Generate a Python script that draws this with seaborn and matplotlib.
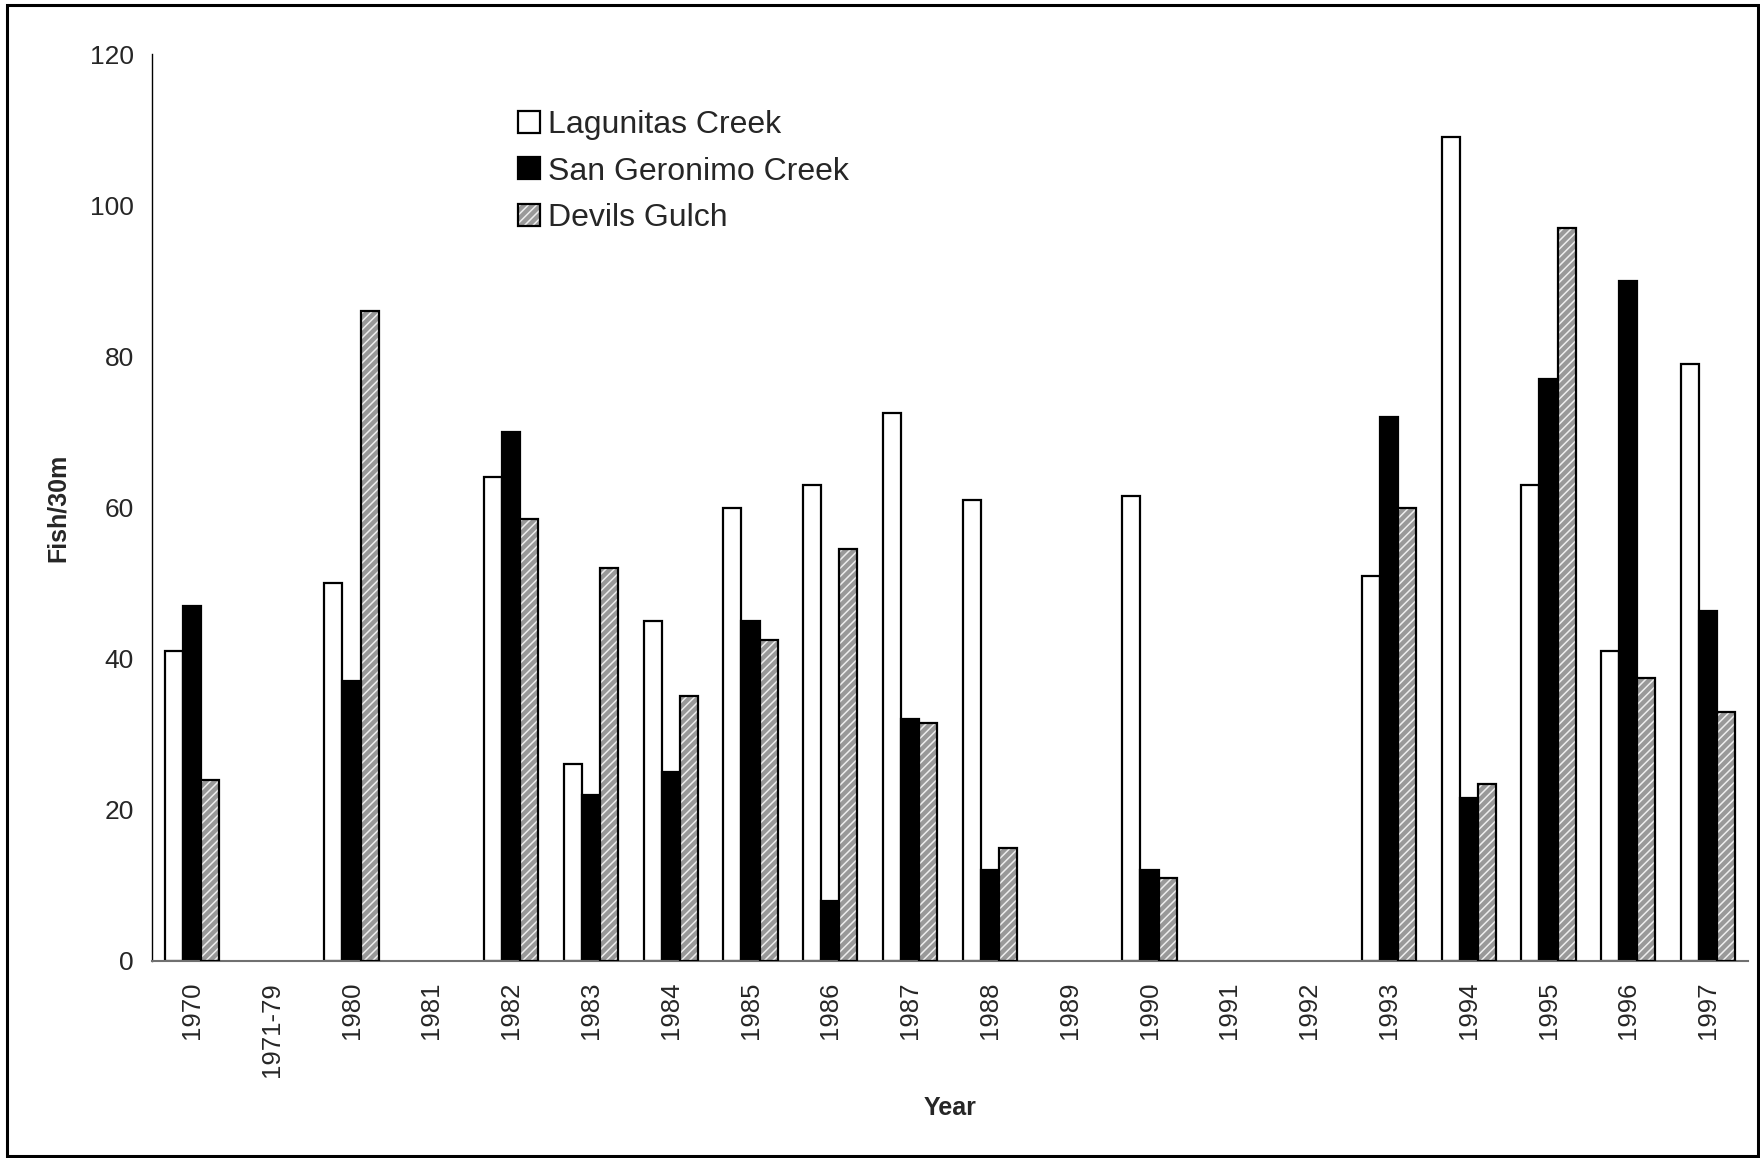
import numpy as np
import pandas as pd
import matplotlib
matplotlib.use("Agg")
import matplotlib.pyplot as plt
import seaborn as sns
from matplotlib.patches import Patch, Rectangle

nan = np.nan
years = ["1970", "1971-79", "1980", "1981", "1982", "1983", "1984", "1985", "1986",
         "1987", "1988", "1989", "1990", "1991", "1992", "1993", "1994", "1995",
         "1996", "1997"]
lagunitas = [41, nan, 50, nan, 64, 26, 45, 60, 63, 72.5, 61, nan, 61.5, nan, nan,
             51, 109, 63, 41, 79]
san_geronimo = [47, nan, 37, nan, 70, 22, 25, 45, 8, 32, 12, nan, 12, nan, nan,
                72, 21.6, 77, 90, 46.3]
devils_gulch = [24, nan, 86, nan, 58.5, 52, 35, 42.5, 54.5, 31.5, 15, nan, 11, nan, nan,
                60, 23.4, 97, 37.5, 33]
series_names = ["Lagunitas Creek", "San Geronimo Creek", "Devils Gulch"]
y_ticks = [0, 20, 40, 60, 80, 100, 120]

rows = []
for name, vals in zip(series_names, [lagunitas, san_geronimo, devils_gulch]):
    for yr, v in zip(years, vals):
        if not np.isnan(v):
            rows.append({"Year": yr, "Series": name, "Fish": v})
df = pd.DataFrame(rows)

sns.set_style("white")
plt.rcParams["font.family"] = ["Liberation Sans", "DejaVu Sans"]
plt.rcParams["hatch.linewidth"] = 1.1

W, H = 1760, 1158
fig = plt.figure(figsize=(W / 100, H / 100), dpi=100)
ax = fig.add_axes([152 / W, 1 - 961 / H, 1596 / W, 907 / H])

gray = "#999999"
hatch = "////"
sns.barplot(data=df, x="Year", y="Fish", hue="Series", order=years,
            hue_order=series_names, palette=["white", "black", gray],
            width=0.68, saturation=1, errorbar=None, edgecolor="black",
            linewidth=1.6, legend=False, ax=ax)

# hatched Devils Gulch bars: white hatch on grey, black outline
for bar in ax.containers[2]:
    bar.set_facecolor(gray)
    bar.set_edgecolor("#eeeeee")
    bar.set_hatch(hatch)
    bar.set_linewidth(0)
    ax.add_patch(Rectangle(bar.get_xy(), bar.get_width(), bar.get_height(),
                           fill=False, edgecolor="black", linewidth=1.6, zorder=3))

ax.set_xlim(-0.5, len(years) - 0.5)
ax.set_ylim(0, 120)
ax.set_yticks(y_ticks)
ax.set_yticklabels([str(t) for t in y_ticks], fontsize=19)
ax.set_xticks(range(len(years)))
ax.set_xticklabels(years, rotation=90, fontsize=18.5)
ax.set_xticks(np.arange(-0.5, len(years), 1.0), minor=True)
ax.tick_params(axis="x", which="major", length=0, pad=15)
ax.tick_params(axis="x", which="minor", length=16, width=1.2, direction="inout",
               color="#707070")
ax.tick_params(axis="y", which="major", length=18, width=1.0, direction="inout",
               color="#303030", pad=4)

for s in ["top", "right"]:
    ax.spines[s].set_visible(False)
ax.spines["left"].set_color("black")
ax.spines["left"].set_linewidth(1.0)
ax.spines["bottom"].set_color("#707070")
ax.spines["bottom"].set_linewidth(1.5)

ax.set_xlabel("Year", fontsize=18, fontweight="bold", labelpad=14)
ax.set_ylabel("Fish/30m", fontsize=18, fontweight="bold", labelpad=14.5)

handles = [
    Patch(facecolor="white", edgecolor="black", linewidth=1.6),
    Patch(facecolor="black", edgecolor="black", linewidth=1.6),
    (Patch(facecolor=gray, edgecolor="#eeeeee", hatch=hatch, linewidth=0),
     Patch(fill=False, edgecolor="black", linewidth=1.6)),
]
ax.legend(handles, series_names, loc="upper left", bbox_to_anchor=(0.2293, 0.938),
          frameon=False, fontsize=23, borderpad=0, borderaxespad=0,
          handlelength=0.68, handleheight=0.68, handletextpad=0.25, labelspacing=0.51)

fig.add_artist(Rectangle((7 / W, 1 - 1156 / H), (1758 - 7) / W, (1156 - 5) / H,
                         transform=fig.transFigure, fill=False, edgecolor="black",
                         linewidth=2.2))

fig.savefig("out.png", dpi=100)
